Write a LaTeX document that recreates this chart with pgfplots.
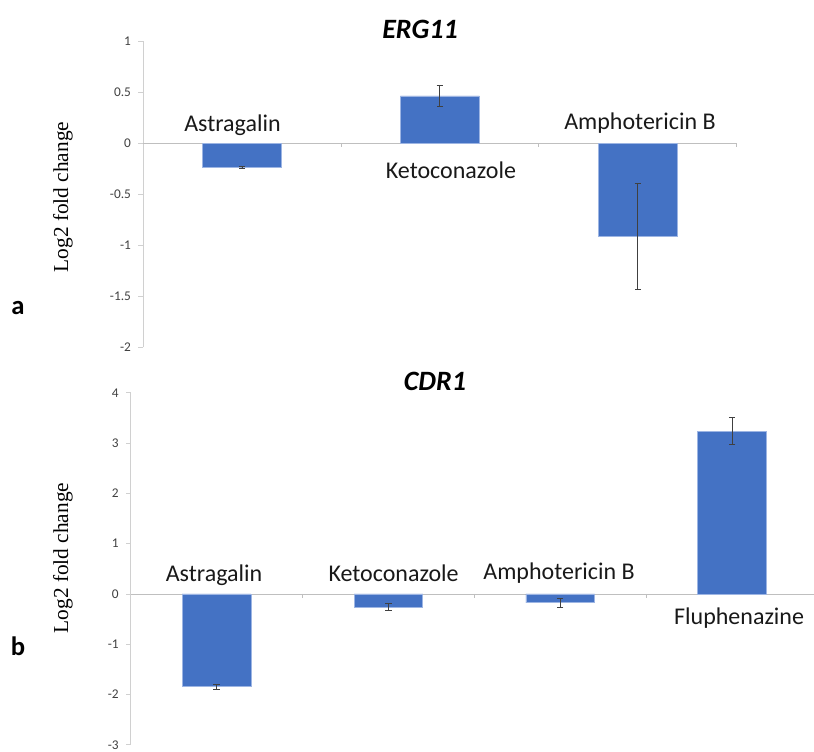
\documentclass[border=0pt]{standalone}
\usepackage{pgfplots}
\pgfplotsset{compat=1.18}
\usepackage{fontspec}
\setmainfont{Carlito}
\newfontfamily\serifff{Liberation Serif}
\definecolor{barblue}{HTML}{4472C4}
\definecolor{baredge}{HTML}{9DB5E3}
\definecolor{axgray}{HTML}{D0D0D0}
\definecolor{zgray}{HTML}{BFBFBF}
\definecolor{ticktxt}{HTML}{404040}
\tikzset{dlabel/.style={font=\fontsize{18}{20}\selectfont, anchor=base, inner sep=0pt, text=black!90}}
\pgfplotsset{
  excel/.style={
    scale only axis,
    axis x line=none,
    axis y line=left,
    y axis line style={-, draw=axgray, line width=0.6pt},
    ytick style={draw=axgray, line width=0.6pt},
    tick align=outside,
    major tick length=3.5pt,
    yticklabel style={font=\fontsize{10}{12}\selectfont, text=ticktxt, xshift=-2pt},
    clip=false,
    bar shift=0pt,
  },
  barstyle/.style={
    ybar, bar width=0.4, fill=barblue, draw=baredge, line width=0.5pt,
    error bars/.cd, y dir=both, y explicit,
    error bar style={black!75, line width=0.6pt},
    error mark options={rotate=90, mark size=2.4pt, black!75, line width=0.6pt},
  },
}
\begin{document}
\begin{tikzpicture}
\clip (0,0) rectangle (610.5pt,563.25pt);
% ---------------- top: ERG11 ----------------
\begin{axis}[excel,
  at={(107.25pt,302.78pt)}, anchor=south west,
  width=445.3pt, height=229.5pt,
  xmin=0.5, xmax=3.5, ymin=-2, ymax=1,
  ytick={-2,-1.5,-1,-0.5,0,0.5,1},
  yticklabels={-2,-1.5,-1,-0.5,0,0.5,1},
]
\draw[zgray, line width=0.6pt] (axis cs:0.5,0) -- (axis cs:3.5,0);
\pgfplotsinvokeforeach{1.5,2.5,3.5}{\draw[zgray, line width=0.6pt] (axis cs:#1,0) -- ++(0pt,-3pt);}
\addplot[barstyle] coordinates {
  (1,-0.235) +- (0,0.012)
  (2,0.464) +- (0,0.10)
  (3,-0.91) +- (0,0.52)
};
\node[dlabel] at (axis cs:0.952,0.114) {Astragalin};
\node[dlabel] at (axis cs:2.056,-0.343) {Ketoconazole};
\node[dlabel] at (axis cs:3.011,0.131) {Amphotericin B};
\end{axis}
% ---------------- bottom: CDR1 ----------------
\begin{axis}[excel,
  at={(98.0pt,4.58pt)}, anchor=south west,
  width=515.5pt, height=264.1pt,
  xmin=0.5, xmax=4.5, ymin=-3, ymax=4,
  ytick={-3,-2,-1,0,1,2,3,4},
  yticklabels={-3,-2,-1,0,1,2,3,4},
]
\draw[zgray, line width=0.6pt] (axis cs:0.5,0) -- (axis cs:4.5,0);
\pgfplotsinvokeforeach{1.5,2.5,3.5,4.5}{\draw[zgray, line width=0.6pt] (axis cs:#1,0) -- ++(0pt,-3pt);}
\addplot[barstyle] coordinates {
  (1,-1.84) +- (0,0.05)
  (2,-0.26) +- (0,0.07)
  (3,-0.175) +- (0,0.09)
  (4,3.24) +- (0,0.275)
};
\node[dlabel] at (axis cs:0.985,0.245) {Astragalin};
\node[dlabel] at (axis cs:2.030,0.245) {Ketoconazole};
\node[dlabel] at (axis cs:2.993,0.292) {Amphotericin B};
\node[dlabel] at (axis cs:4.041,-0.616) {Fluphenazine};
\end{axis}
% titles, axis labels, panel letters
\node[anchor=base, font=\fontsize{21}{24}\selectfont\bfseries\itshape] at (315pt,534.5pt) {ERG11};
\node[anchor=base, font=\fontsize{21}{24}\selectfont\bfseries\itshape] at (326.25pt,270.75pt) {CDR1};
\node[rotate=90, font=\fontsize{16}{18}\selectfont\serifff] at (47.25pt,415.5pt) {Log2 fold change};
\node[rotate=90, font=\fontsize{16}{18}\selectfont\serifff] at (47.25pt,144.75pt) {Log2 fold change};
\node[font=\fontsize{20}{22}\selectfont\bfseries, inner sep=0pt] at (13.5pt,332.25pt) {a};
\node[font=\fontsize{20}{22}\selectfont\bfseries, inner sep=0pt] at (13.5pt,78.75pt) {b};
\end{tikzpicture}
\end{document}
